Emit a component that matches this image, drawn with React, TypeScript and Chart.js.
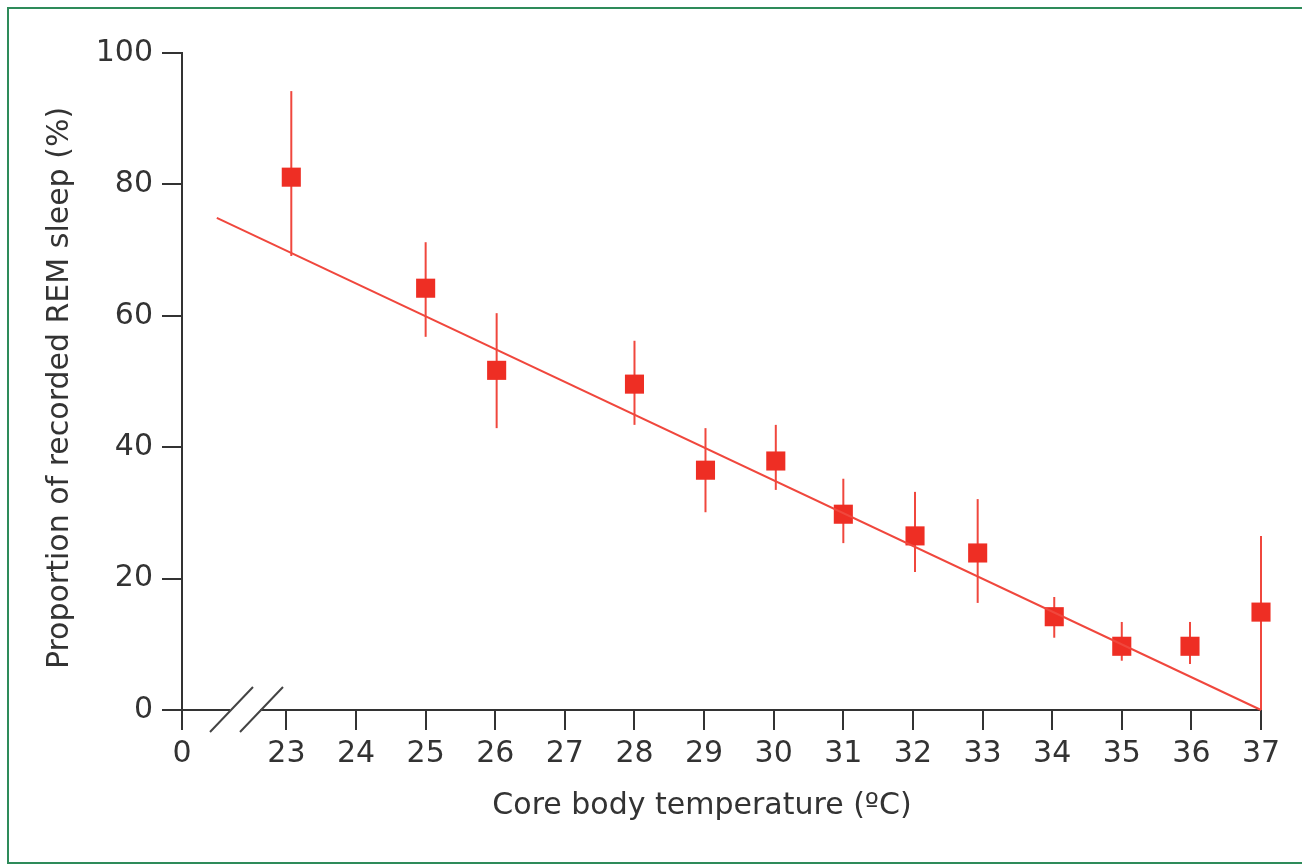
import React, { useEffect, useRef } from "react";
import { Chart, registerables } from "chart.js";

Chart.register(...registerables);

// Temperature (°C) for each observation
const temps = [23.07, 25, 26.02, 28, 29.02, 30.03, 31, 32.03, 32.93, 34.03, 35, 35.98, 37];
// Proportion of recorded REM sleep (%)
const remMean = [81.1, 64.2, 51.7, 49.6, 36.5, 37.9, 29.8, 26.5, 23.9, 14.2, 9.7, 9.7, 14.9];
const remHigh = [94.2, 71.2, 60.4, 56.2, 42.9, 43.4, 35.2, 33.2, 32.1, 17.2, 13.4, 13.4, 26.5];
const remLow = [69.1, 56.8, 42.9, 43.4, 30.1, 33.5, 25.4, 21.0, 16.3, 11.0, 7.5, 7.0, 0];
// Regression line end points
const fitX = [22, 37];
const fitY = [74.9, 0];
// Axis tick values / labels
const xBreakValue = 21.5; // shown as "0" on the broken axis
const xTickValues = [21.5, 23, 24, 25, 26, 27, 28, 29, 30, 31, 32, 33, 34, 35, 36, 37];
const yTickStep = 20;

const xTitle = "Core body temperature (ºC)";
const yTitle = "Proportion of recorded REM sleep (%)";

const RED = "#ee2e24";
const LINE_RED = "#f0473d";
const AXIS = "#333333";
const FONT = "'DejaVu Sans', sans-serif";

export default function App() {
  const ref = useRef<HTMLCanvasElement | null>(null);

  useEffect(() => {
    if (!ref.current) return;

    const extras = {
      id: "extras",
      beforeDatasetsDraw(chart: any) {
        const { ctx, scales } = chart;
        const xs = scales.x, ys = scales.y;
        ctx.save();
        ctx.strokeStyle = LINE_RED;
        ctx.lineWidth = 2;
        for (let i = 0; i < temps.length; i++) {
          const px = xs.getPixelForValue(temps[i]);
          ctx.beginPath();
          ctx.moveTo(px, ys.getPixelForValue(remHigh[i]));
          ctx.lineTo(px, ys.getPixelForValue(remLow[i]));
          ctx.stroke();
        }
        ctx.restore();
      },
      afterDraw(chart: any) {
        const { ctx, chartArea } = chart;
        const yAxis = chartArea.bottom;
        ctx.save();
        // gap in the axis between the break marks
        ctx.fillStyle = "#ffffff";
        ctx.fillRect(230, yAxis - 3, 30, 6);
        // break slashes
        ctx.strokeStyle = "#444444";
        ctx.lineWidth = 2;
        ctx.beginPath();
        ctx.moveTo(210, yAxis + 22);
        ctx.lineTo(253, yAxis - 23);
        ctx.moveTo(240, yAxis + 22);
        ctx.lineTo(283, yAxis - 23);
        ctx.stroke();
        // titles
        ctx.fillStyle = AXIS;
        ctx.font = `30px ${FONT}`;
        ctx.textAlign = "center";
        ctx.textBaseline = "middle";
        ctx.fillText(xTitle, 702, 806);
        ctx.translate(60, 388);
        ctx.rotate(-Math.PI / 2);
        ctx.fillText(yTitle, 0, 0);
        ctx.restore();
      },
    };

    const chart = new Chart(ref.current, {
      type: "scatter",
      data: {
        datasets: [
          {
            label: "fit",
            data: fitX.map((x, i) => ({ x, y: fitY[i] })),
            showLine: true,
            borderColor: LINE_RED,
            borderWidth: 2,
            pointRadius: 0,
            fill: false,
            clip: false,
          },
          {
            label: "REM",
            data: temps.map((x, i) => ({ x, y: remMean[i] })),
            pointStyle: "rect",
            pointRadius: 13.5,
            backgroundColor: RED,
            borderColor: RED,
            borderWidth: 0,
            clip: false,
          },
        ],
      },
      plugins: [extras],
      options: {
        animation: false,
        responsive: false,
        layout: { padding: { left: 0, right: 41, top: 53, bottom: 0 } },
        plugins: {
          legend: { display: false },
          tooltip: { enabled: false },
        },
        scales: {
          x: {
            type: "linear",
            min: xBreakValue,
            max: 37,
            afterBuildTicks: (scale: any) => {
              scale.ticks = xTickValues.map((v) => ({ value: v }));
            },
            afterFit: (scale: any) => {
              scale.height = 155;
            },
            ticks: {
              color: AXIS,
              font: { family: FONT, size: 30 },
              padding: 6,
              maxRotation: 0,
              autoSkip: false,
              callback: (v: any) => (v === xBreakValue ? "0" : String(v)),
            },
            grid: {
              drawOnChartArea: false,
              drawTicks: true,
              tickLength: 20,
              color: AXIS,
              lineWidth: 2,
            },
            border: { display: true, color: AXIS, width: 2 },
          },
          y: {
            type: "linear",
            min: 0,
            max: 100,
            afterFit: (scale: any) => {
              scale.width = 182;
            },
            ticks: {
              stepSize: yTickStep,
              color: AXIS,
              font: { family: FONT, size: 30 },
              padding: 9,
            },
            grid: {
              drawOnChartArea: false,
              drawTicks: true,
              tickLength: 20,
              color: AXIS,
              lineWidth: 2,
            },
            border: { display: true, color: AXIS, width: 2 },
          },
        },
      },
    } as any);

    return () => chart.destroy();
  }, []);

  return (
    <div style={{ position: "fixed", left: 0, top: 0, width: 1302, height: 865, overflow: "hidden", background: "#fff" }}>
      <div
        style={{
          position: "absolute",
          left: 7,
          top: 7,
          width: 1320,
          height: 857,
          border: "2.5px solid #2e8b5a",
          boxSizing: "border-box",
        }}
      />
      <canvas ref={ref} width={1302} height={865} style={{ position: "absolute", left: 0, top: 0 }} />
    </div>
  );
}
